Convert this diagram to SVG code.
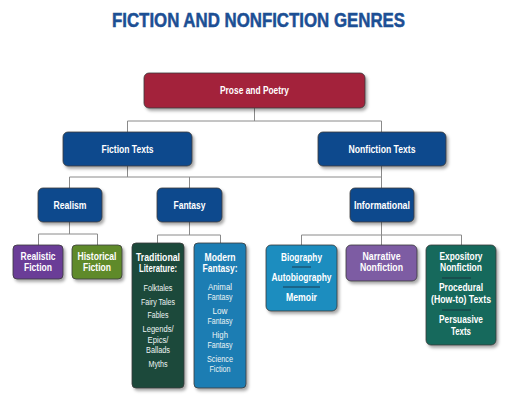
<svg xmlns="http://www.w3.org/2000/svg" width="520" height="400" viewBox="0 0 520 400">
<defs>
<filter id="sh" x="-20%" y="-20%" width="150%" height="150%">
<feDropShadow dx="2" dy="2.5" stdDeviation="1.5" flood-color="#000" flood-opacity="0.35"/>
</filter>
<style>
.box{stroke:#3a3a3a;stroke-width:0.8;filter:url(#sh)}
.t{font-family:"Liberation Sans",Arial,sans-serif;font-weight:bold;fill:#fff;text-anchor:middle}
.n{font-size:10px}
.h{font-size:10.5px}
.s{font-size:8.5px;font-weight:normal;fill:#eef4f4}
.c{stroke:#8a8a8a;stroke-width:1;fill:none}
.sep{stroke:#1a2a3a;stroke-width:0.8}
</style>
</defs>
<rect width="520" height="400" fill="#fff"/>
<text x="258.5" y="27" font-family="Liberation Sans,Arial,sans-serif" font-weight="bold" font-size="19.5" fill="#1c4f94" stroke="#1c4f94" stroke-width="0.5" text-anchor="middle" textLength="293" lengthAdjust="spacingAndGlyphs">FICTION AND NONFICTION GENRES</text>

<g id="connectors">
<path class="c" d="M254.5 108V121M127.5 121H381.5M127.5 121V132M381.5 121V132"/>
<path class="c" d="M127.5 166V177M69.5 177H381.5M69.5 177V188M189.5 177V188M381.5 166V188"/>
<path class="c" d="M69.5 222V234M38.5 234H97.5M38.5 234V245M97.5 234V245"/>
<path class="c" d="M189.5 222V235M157.5 235H220.5M157.5 235V243M220.5 235V243"/>
<path class="c" d="M381.5 222V235M301.5 235H461.5M301.5 235V245M381.5 235V245M461.5 235V245"/>
</g>

<g id="prose-poetry">
<rect class="box" x="144" y="73" width="221" height="35" rx="5" fill="#a3213b"/>
<text class="t n" x="254.5" y="93.5" textLength="69" lengthAdjust="spacingAndGlyphs">Prose and Poetry</text>
</g>
<g id="fiction-texts">
<rect class="box" x="63" y="132" width="129" height="34" rx="5" fill="#0f4a8d"/>
<text class="t n" x="127.5" y="152.5" textLength="52" lengthAdjust="spacingAndGlyphs">Fiction Texts</text>
</g>
<g id="nonfiction-texts">
<rect class="box" x="318" y="132" width="128" height="34" rx="5" fill="#0f4a8d"/>
<text class="t n" x="382" y="152.5" textLength="67" lengthAdjust="spacingAndGlyphs">Nonfiction Texts</text>
</g>
<g id="realism">
<rect class="box" x="38" y="188" width="64" height="34" rx="5" fill="#0f4a8d"/>
<text class="t n" x="70" y="208.5" textLength="33" lengthAdjust="spacingAndGlyphs">Realism</text>
</g>
<g id="fantasy">
<rect class="box" x="157" y="188" width="65" height="34" rx="5" fill="#0f4a8d"/>
<text class="t n" x="189.5" y="208.5" textLength="32" lengthAdjust="spacingAndGlyphs">Fantasy</text>
</g>
<g id="informational">
<rect class="box" x="350" y="188" width="64" height="34" rx="5" fill="#0f4a8d"/>
<text class="t n" x="382" y="208.5" textLength="56" lengthAdjust="spacingAndGlyphs">Informational</text>
</g>
<g id="realistic-fiction">
<rect class="box" x="13" y="245" width="50" height="34" rx="4" fill="#6a3d97"/>
<text class="t n" x="38" y="259.5" textLength="35" lengthAdjust="spacingAndGlyphs">Realistic</text>
<text class="t n" x="38" y="271" textLength="28" lengthAdjust="spacingAndGlyphs">Fiction</text>
</g>
<g id="historical-fiction">
<rect class="box" x="72" y="245" width="50" height="34" rx="4" fill="#5e8a2c"/>
<text class="t n" x="97" y="259.5" textLength="39" lengthAdjust="spacingAndGlyphs">Historical</text>
<text class="t n" x="97" y="271" textLength="28" lengthAdjust="spacingAndGlyphs">Fiction</text>
</g>
<g id="traditional-literature">
<rect class="box" x="132" y="243" width="52" height="145" rx="4" fill="#1c4a3b"/>
<text class="t h" x="158" y="260.5" textLength="44" lengthAdjust="spacingAndGlyphs">Traditional</text>
<text class="t h" x="158" y="272" textLength="38" lengthAdjust="spacingAndGlyphs">Literature:</text>
<text class="t s" x="158" y="291" textLength="29" lengthAdjust="spacingAndGlyphs">Folktales</text>
<text class="t s" x="158" y="304.5" textLength="34" lengthAdjust="spacingAndGlyphs">Fairy Tales</text>
<text class="t s" x="158" y="318" textLength="21" lengthAdjust="spacingAndGlyphs">Fables</text>
<text class="t s" x="158" y="332" textLength="31" lengthAdjust="spacingAndGlyphs">Legends/</text>
<text class="t s" x="158" y="342.5" textLength="21" lengthAdjust="spacingAndGlyphs">Epics/</text>
<text class="t s" x="158" y="353" textLength="24" lengthAdjust="spacingAndGlyphs">Ballads</text>
<text class="t s" x="158" y="366.5" textLength="19" lengthAdjust="spacingAndGlyphs">Myths</text>
</g>
<g id="modern-fantasy">
<rect class="box" x="194" y="243" width="52" height="145" rx="4" fill="#1f7db3"/>
<text class="t h" x="220" y="260.5" textLength="31" lengthAdjust="spacingAndGlyphs">Modern</text>
<text class="t h" x="220" y="272" textLength="35" lengthAdjust="spacingAndGlyphs">Fantasy:</text>
<text class="t s" x="220" y="290" textLength="24" lengthAdjust="spacingAndGlyphs">Animal</text>
<text class="t s" x="220" y="300" textLength="25" lengthAdjust="spacingAndGlyphs">Fantasy</text>
<text class="t s" x="220" y="314" textLength="15" lengthAdjust="spacingAndGlyphs">Low</text>
<text class="t s" x="220" y="324" textLength="25" lengthAdjust="spacingAndGlyphs">Fantasy</text>
<text class="t s" x="220" y="338" textLength="16" lengthAdjust="spacingAndGlyphs">High</text>
<text class="t s" x="220" y="348" textLength="25" lengthAdjust="spacingAndGlyphs">Fantasy</text>
<text class="t s" x="220" y="362" textLength="26" lengthAdjust="spacingAndGlyphs">Science</text>
<text class="t s" x="220" y="372" textLength="21" lengthAdjust="spacingAndGlyphs">Fiction</text>
</g>
<g id="biography">
<rect class="box" x="266" y="245" width="71" height="66" rx="5" fill="#1a8dbf"/>
<text class="t n" x="301.5" y="260.5" textLength="41" lengthAdjust="spacingAndGlyphs">Biography</text>
<line class="sep" x1="292" y1="267" x2="311" y2="267"/>
<text class="t n" x="301.5" y="280.5" textLength="60" lengthAdjust="spacingAndGlyphs">Autobiography</text>
<line class="sep" x1="283" y1="287" x2="320" y2="287"/>
<text class="t n" x="301.5" y="300.5" textLength="31" lengthAdjust="spacingAndGlyphs">Memoir</text>
</g>
<g id="narrative-nonfiction">
<rect class="box" x="346" y="245" width="71" height="36" rx="5" fill="#7d5ca3"/>
<text class="t n" x="381.5" y="259.5" textLength="38" lengthAdjust="spacingAndGlyphs">Narrative</text>
<text class="t n" x="381.5" y="271" textLength="43" lengthAdjust="spacingAndGlyphs">Nonfiction</text>
</g>
<g id="expository-nonfiction">
<rect class="box" x="426" y="245" width="70" height="100" rx="5" fill="#17695b"/>
<text class="t n" x="461" y="259.5" textLength="43" lengthAdjust="spacingAndGlyphs">Expository</text>
<text class="t n" x="461" y="271" textLength="42" lengthAdjust="spacingAndGlyphs">Nonfiction</text>
<line class="sep" x1="442" y1="278" x2="471" y2="278"/>
<text class="t n" x="461" y="291" textLength="44" lengthAdjust="spacingAndGlyphs">Procedural</text>
<text class="t n" x="461" y="303" textLength="60" lengthAdjust="spacingAndGlyphs">(How-to) Texts</text>
<line class="sep" x1="442" y1="310" x2="471" y2="310"/>
<text class="t n" x="461" y="323" textLength="44" lengthAdjust="spacingAndGlyphs">Persuasive</text>
<text class="t n" x="461" y="335" textLength="20" lengthAdjust="spacingAndGlyphs">Texts</text>
</g>
</svg>
